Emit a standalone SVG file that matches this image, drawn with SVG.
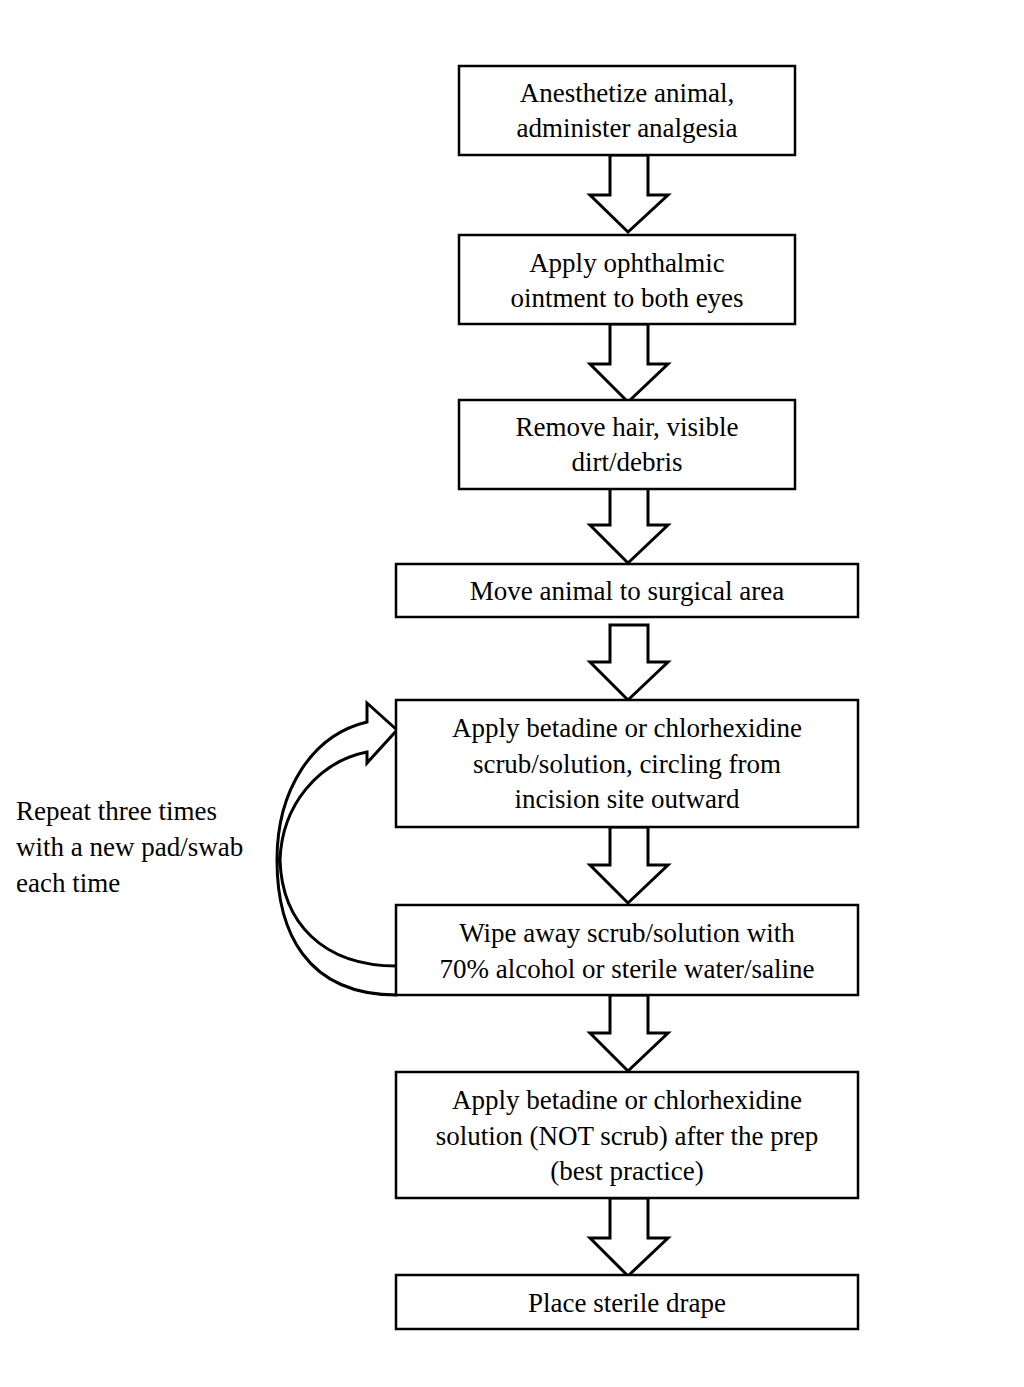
<svg xmlns="http://www.w3.org/2000/svg" width="1024" height="1387" viewBox="0 0 1024 1387">
<defs>
<style>
.b{fill:#fff;stroke:#000;stroke-width:2.5}
.a{fill:#fff;stroke:#000;stroke-width:3;stroke-linejoin:miter}
text{font-family:"Liberation Serif","Times New Roman",serif;font-size:27px;fill:#000;text-anchor:middle}
</style>
</defs>
<rect width="1024" height="1387" fill="#fff"/>
<g id="connectors">
<path class="a" d="M610,155 V195 H590 L628,232 L668,195 H648 V155 Z"/>
<path class="a" d="M610,324 V364 H590 L628,402 L668,364 H648 V324 Z"/>
<path class="a" d="M610,487 V525 H590 L628,563 L668,525 H648 V487 Z"/>
<path class="a" d="M610,625 V662 H590 L628,700 L668,662 H648 V625 Z"/>
<path class="a" d="M610,827 V865 H590 L628,903 L668,865 H648 V827 Z"/>
<path class="a" d="M610,995 V1033 H590 L628,1071 L668,1033 H648 V995 Z"/>
<path class="a" d="M610,1198 V1238 H590 L628,1276 L668,1238 H648 V1198 Z"/>
<path class="a" d="M397,995 C305,995 277,930 277,860 C277,790 312,735 367,722 L367,703 L397,730 L367,763 L367,752 C318,762 282,805 280,860 C282,922 322,966 397,966"/>
</g>
<g id="n1"><rect class="b" x="459" y="66" width="336" height="89"/><text x="627" y="102">Anesthetize animal,</text><text x="627" y="137">administer analgesia</text></g>
<g id="n2"><rect class="b" x="459" y="235" width="336" height="89"/><text x="627" y="272">Apply ophthalmic</text><text x="627" y="307">ointment to both eyes</text></g>
<g id="n3"><rect class="b" x="459" y="400" width="336" height="89"/><text x="627" y="436">Remove hair, visible</text><text x="627" y="471">dirt/debris</text></g>
<g id="n4"><rect class="b" x="396" y="564" width="462" height="53"/><text x="627" y="600">Move animal to surgical area</text></g>
<g id="n5"><rect class="b" x="396" y="700" width="462" height="127"/><text x="627" y="737">Apply betadine or chlorhexidine</text><text x="627" y="773">scrub/solution, circling  from</text><text x="627" y="808">incision site outward</text></g>
<g id="n6"><rect class="b" x="396" y="905" width="462" height="90"/><text x="627" y="942">Wipe away scrub/solution with</text><text x="627" y="978">70% alcohol or sterile water/saline</text></g>
<g id="n7"><rect class="b" x="396" y="1072" width="462" height="126"/><text x="627" y="1109">Apply betadine or chlorhexidine</text><text x="627" y="1145">solution (NOT scrub) after the prep</text><text x="627" y="1180">(best practice)</text></g>
<g id="n8"><rect class="b" x="396" y="1275" width="462" height="54"/><text x="627" y="1312">Place sterile drape</text></g>
<g id="label"><text x="16" y="820" style="text-anchor:start">Repeat three times</text><text x="16" y="856" style="text-anchor:start">with a new pad/swab</text><text x="16" y="892" style="text-anchor:start">each time</text></g>
</svg>
